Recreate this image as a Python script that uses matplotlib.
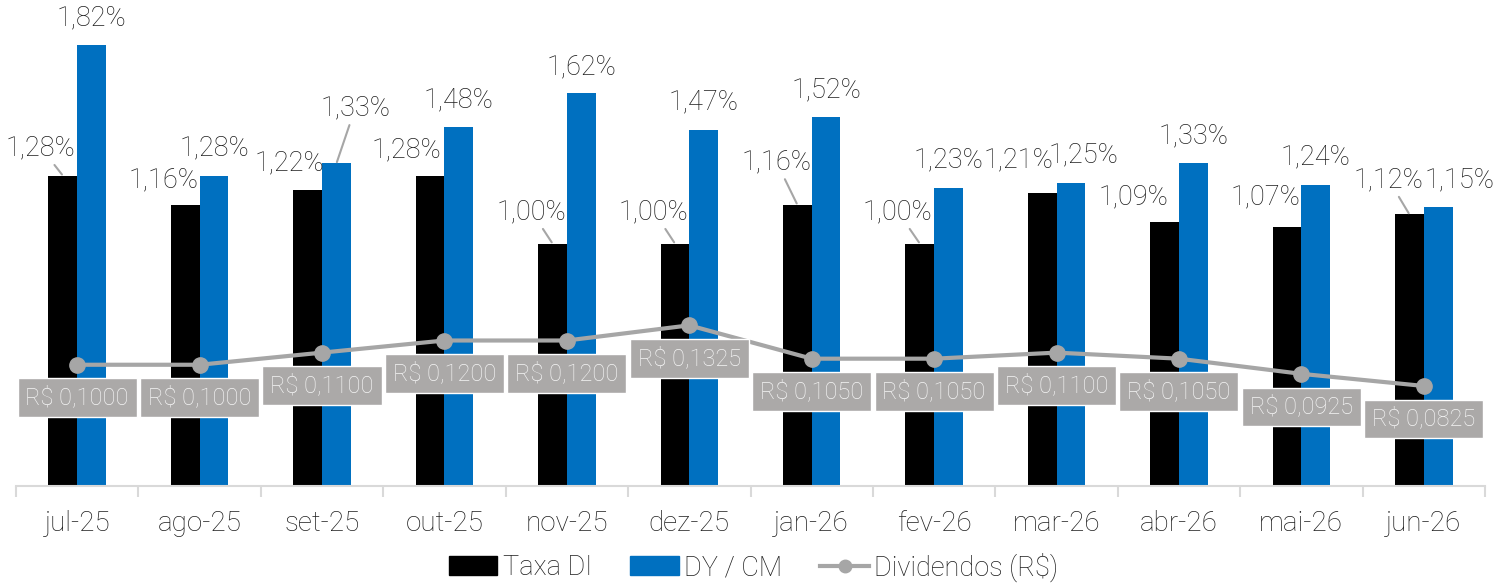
import matplotlib.pyplot as plt
import numpy as np
from matplotlib.patches import Patch
from matplotlib.lines import Line2D

plt.rcParams['font.family'] = ['Roboto', 'DejaVu Sans']
plt.rcParams['font.weight'] = 'light'

# data
months = ['jul-25', 'ago-25', 'set-25', 'out-25', 'nov-25', 'dez-25',
          'jan-26', 'fev-26', 'mar-26', 'abr-26', 'mai-26', 'jun-26']
taxa_di = [1.28, 1.16, 1.22, 1.28, 1.00, 1.00, 1.16, 1.00, 1.21, 1.09, 1.07, 1.12]
dy_cm = [1.82, 1.28, 1.33, 1.48, 1.62, 1.47, 1.52, 1.23, 1.25, 1.33, 1.24, 1.15]
dividendos = [0.1000, 0.1000, 0.1100, 0.1200, 0.1200, 0.1325,
              0.1050, 0.1050, 0.1100, 0.1050, 0.0925, 0.0825]

# label placement (pixel offsets from bar top) and leader lines
di_offsets = [(-22, 28), (-22, 25), (-18, 27), (-24, 26), (-21, 32), (-21, 32),
              (-21, 43), (-22, 32), (-24, 33), (-31, 25), (-21, 30), (-21, 35)]
di_leader = [True, False, False, False, True, True, True, True, False, False, False, True]
dy_offsets = [(0, 27), (0, 28), (19, 56), (0, 27), (0, 26), (0, 28),
              (0, 28), (0, 28), (13, 28), (0, 28), (0, 28), (21, 27)]
dy_leader = [False, False, True, False, False, False, False, False, False, False, False, False]

BLACK = '#000000'
BLUE = '#0070C0'
GREY = '#A6A6A6'
BOX = '#ABA9A8'
TEXT = '#1E1E1E'
FS = 19.5

fig = plt.figure(figsize=(15.07, 5.88), dpi=100)
ax1 = fig.add_axes([16 / 1507, 102 / 588, 1469 / 1507, 485 / 588])

x = np.arange(len(months))
w = 0.235
ax1.bar(x - w / 2, taxa_di, width=w, color=BLACK, zorder=2)
ax1.bar(x + w / 2, dy_cm, width=w, color=BLUE, zorder=2)
ax1.set_ylim(0, 2.0)
ax1.set_xlim(-0.5, len(months) - 0.5)

def pct(v):
  return f'{v:.2f}%'.replace('.', ',')

for i in range(len(months)):
  arrow = dict(arrowstyle='-', color=GREY, lw=1.5, shrinkA=1, shrinkB=1)
  ax1.annotate(pct(taxa_di[i]), xy=(x[i] - w / 2, taxa_di[i]), xytext=di_offsets[i],
               textcoords='offset pixels', ha='center', va='center', fontsize=FS,
               color=TEXT, arrowprops=arrow if di_leader[i] else None, zorder=5)
  ax1.annotate(pct(dy_cm[i]), xy=(x[i] + w / 2, dy_cm[i]), xytext=dy_offsets[i],
               textcoords='offset pixels', ha='center', va='center', fontsize=FS,
               color=TEXT, arrowprops=arrow if dy_leader[i] else None, zorder=5)

# axes look
for s in ['top', 'right', 'left']:
  ax1.spines[s].set_visible(False)
ax1.spines['bottom'].set_color('#D9D9D9')
ax1.spines['bottom'].set_linewidth(1.5)
ax1.set_yticks([])
ax1.set_xticks(x)
ax1.set_xticklabels(months, fontsize=20, color=TEXT)
ax1.tick_params(axis='x', which='major', length=0, pad=17)
ax1.set_xticks(np.arange(-0.5, len(months)), minor=True)
ax1.tick_params(axis='x', which='minor', length=8, width=1.5, color='#D9D9D9')

# secondary axis for dividends
ax2 = ax1.twinx()
ax2.set_ylim(0, 0.4)
ax2.axis('off')
ax2.plot(x, dividendos, color=GREY, lw=3, marker='o', markersize=11, zorder=3)
for i in range(len(months)):
  txt = 'R$ ' + f'{dividendos[i]:.4f}'.replace('.', ',')
  ax2.annotate(txt, xy=(x[i], dividendos[i]), xytext=(0, -33), textcoords='offset pixels',
               ha='center', va='center', fontsize=17, color='#F5F5F5',
               bbox=dict(boxstyle='square,pad=0.33', fc=BOX, ec='white', lw=1), zorder=4)

handles = [Patch(color=BLACK, label='Taxa DI'),
           Patch(color=BLUE, label='DY / CM'),
           Line2D([], [], color=GREY, lw=3, marker='o', markersize=9, label='Dividendos (R$)')]
fig.legend(handles=handles, loc='center', bbox_to_anchor=(0.5, 0.036), ncol=3, frameon=False,
           fontsize=FS, handlelength=1.8, handletextpad=0.2, columnspacing=1.4,
           labelcolor=TEXT)

fig.savefig('out.png', dpi=100)
